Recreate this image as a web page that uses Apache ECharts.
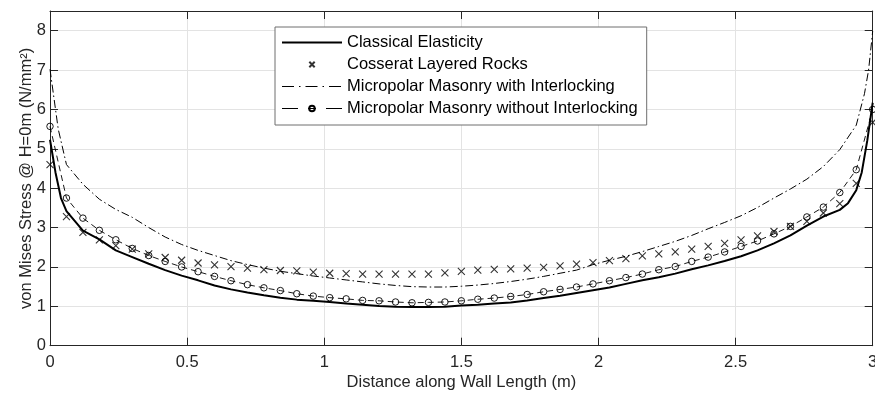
<!DOCTYPE html>
<html>
<head>
<meta charset="utf-8">
<script src="https://cdn.jsdelivr.net/npm/echarts@6/dist/echarts.min.js"></script>
<style>html,body{margin:0;padding:0;background:#fff;overflow:hidden}#c{width:875px;height:396px}</style>
</head>
<body>
<div id="c"></div>
<script>
// ---- data ----
const seriesNames = ['Classical Elasticity', 'Cosserat Layered Rocks', 'Micropolar Masonry with Interlocking', 'Micropolar Masonry without Interlocking'];
const xTicks = [0, 0.5, 1, 1.5, 2, 2.5, 3];
const yTicks = [0, 1, 2, 3, 4, 5, 6, 7, 8];

// marker positions along the wall (m)
const markX = [0, 0.06, 0.12, 0.18, 0.24, 0.30, 0.36, 0.42, 0.48, 0.54, 0.60, 0.66, 0.72, 0.78, 0.84, 0.90, 0.96,
  1.02, 1.08, 1.14, 1.20, 1.26, 1.32, 1.38, 1.44, 1.50, 1.56, 1.62, 1.68, 1.74, 1.80, 1.86, 1.92, 1.98,
  2.04, 2.10, 2.16, 2.22, 2.28, 2.34, 2.40, 2.46, 2.52, 2.58, 2.64, 2.70, 2.76, 2.82, 2.88, 2.94, 3.00];

const cosseratY = [4.60, 3.28, 2.88, 2.69, 2.54, 2.45, 2.33, 2.24, 2.17, 2.10, 2.05, 2.01, 1.97, 1.93, 1.91, 1.90, 1.87,
  1.84, 1.83, 1.82, 1.82, 1.82, 1.82, 1.82, 1.85, 1.89, 1.92, 1.94, 1.95, 1.97, 1.99, 2.03, 2.07, 2.11,
  2.16, 2.21, 2.28, 2.33, 2.38, 2.45, 2.52, 2.60, 2.69, 2.79, 2.90, 3.03, 3.16, 3.37, 3.61, 4.12, 5.67];

const withoutY = [5.57, 3.75, 3.24, 2.93, 2.69, 2.47, 2.29, 2.14, 2.00, 1.88, 1.76, 1.65, 1.55, 1.47, 1.40, 1.32, 1.26,
  1.22, 1.19, 1.15, 1.14, 1.11, 1.09, 1.10, 1.11, 1.14, 1.18, 1.21, 1.25, 1.30, 1.37, 1.43, 1.49, 1.57,
  1.65, 1.73, 1.82, 1.93, 2.01, 2.14, 2.25, 2.38, 2.52, 2.66, 2.84, 3.03, 3.27, 3.52, 3.89, 4.47, 6.00];

const classicalX = [0, 0.02, 0.04, 0.06, 0.12, 0.18, 0.24, 0.30, 0.36, 0.42, 0.48, 0.54, 0.60, 0.66, 0.72, 0.78, 0.84, 0.90, 0.96,
  1.02, 1.08, 1.14, 1.20, 1.26, 1.32, 1.38, 1.44, 1.50, 1.56, 1.62, 1.68, 1.74, 1.80, 1.86, 1.92, 1.98,
  2.04, 2.10, 2.16, 2.22, 2.28, 2.34, 2.40, 2.46, 2.52, 2.58, 2.64, 2.70, 2.76, 2.82, 2.88, 2.91, 2.94, 2.96, 2.98, 3.00];
const classicalY = [5.23, 4.40, 3.75, 3.42, 2.92, 2.70, 2.42, 2.25, 2.08, 1.92, 1.78, 1.66, 1.53, 1.43, 1.35, 1.28, 1.22, 1.17, 1.14,
  1.11, 1.07, 1.04, 1.01, 0.99, 0.985, 0.98, 0.99, 1.02, 1.04, 1.07, 1.10, 1.15, 1.21, 1.27, 1.34, 1.41,
  1.48, 1.57, 1.66, 1.74, 1.83, 1.94, 2.04, 2.15, 2.27, 2.42, 2.60, 2.80, 3.05, 3.28, 3.45, 3.62, 3.95, 4.40, 5.20, 6.17];

const interlockX = [0, 0.03, 0.06, 0.12, 0.18, 0.24, 0.30, 0.36, 0.42, 0.48, 0.54, 0.60, 0.66, 0.72, 0.78, 0.84, 0.90, 0.96,
  1.02, 1.08, 1.14, 1.20, 1.26, 1.32, 1.38, 1.44, 1.50, 1.56, 1.62, 1.68, 1.74, 1.80, 1.86, 1.92, 1.98,
  2.04, 2.10, 2.16, 2.22, 2.28, 2.34, 2.40, 2.46, 2.52, 2.58, 2.64, 2.70, 2.76, 2.82, 2.88, 2.94, 2.97, 2.985, 3.00];
const interlockY = [7.02, 5.50, 4.60, 4.10, 3.72, 3.46, 3.26, 3.00, 2.76, 2.57, 2.42, 2.29, 2.16, 2.06, 1.97, 1.89, 1.83, 1.77,
  1.72, 1.67, 1.62, 1.57, 1.53, 1.50, 1.49, 1.49, 1.51, 1.54, 1.58, 1.63, 1.69, 1.76, 1.84, 1.92, 2.06,
  2.17, 2.27, 2.39, 2.52, 2.65, 2.80, 2.97, 3.13, 3.30, 3.51, 3.75, 3.98, 4.23, 4.55, 4.98, 5.60, 6.40, 7.00, 7.99];

function pairs(xs, ys) { return xs.map((x, i) => [x, ys[i]]); }

const FONT = 'Liberation Sans, Arial, Helvetica, sans-serif';
const FS = 16.5;
const AX = '#262626';
const crossPath = 'path://M0,0L10,10M10,0L0,10';
const crossLegend = 'path://M0,0M13,13M1.5,1.5L11.5,11.5M11.5,1.5L1.5,11.5';

const chart = echarts.init(document.getElementById('c'), null, { renderer: 'canvas' });
const axisCommon = {
  type: 'value',
  axisLine: { show: true, onZero: false, lineStyle: { color: AX, width: 1 } },
  axisTick: { show: true, inside: true, length: 8, lineStyle: { color: AX, width: 1 } }
};
chart.setOption({
  backgroundColor: '#ffffff',
  animation: false,
  grid: { left: 50, right: 2.3, top: 11, bottom: 50.3, containLabel: false, outerBoundsMode: 'none' },
  xAxis: [
    Object.assign({}, axisCommon, {
      position: 'bottom', min: xTicks[0], max: xTicks[xTicks.length - 1], interval: 0.5,
      name: 'Distance along Wall Length (m)', nameLocation: 'middle', nameGap: 28, nameMoveOverlap: false,
      nameTextStyle: { fontFamily: FONT, fontSize: FS, color: AX },
      axisLabel: { show: true, margin: 8, fontFamily: FONT, fontSize: FS, color: AX },
      splitLine: { show: true, lineStyle: { color: '#e3e3e3', width: 1 } }
    }),
    Object.assign({}, axisCommon, {
      position: 'top', min: xTicks[0], max: xTicks[xTicks.length - 1], interval: 0.5,
      axisLabel: { show: false }, splitLine: { show: false }
    })
  ],
  yAxis: [
    Object.assign({}, axisCommon, {
      position: 'left', min: yTicks[0], max: 8.5, interval: 1,
      name: 'von Mises Stress @ H=0m (N/mm²)', nameLocation: 'middle', nameGap: 15, nameRotate: 90, nameMoveOverlap: false,
      nameTextStyle: { fontFamily: FONT, fontSize: FS, color: AX },
      axisLabel: { show: true, margin: 4, fontFamily: FONT, fontSize: FS, color: AX, showMaxLabel: false },
      splitLine: { show: true, lineStyle: { color: '#e3e3e3', width: 1 } }
    }),
    Object.assign({}, axisCommon, {
      position: 'right', min: yTicks[0], max: 8.5, interval: 1,
      axisLabel: { show: false }, splitLine: { show: false }
    })
  ],
  legend: {
    orient: 'vertical', left: 275, top: 27,
    itemWidth: 60, itemHeight: 7, itemGap: 5,
    padding: [7, 9, 8, 6],
    backgroundColor: '#ffffff', borderColor: '#6e6e6e', borderWidth: 1, borderRadius: 0,
    textStyle: { fontFamily: FONT, fontSize: FS, color: '#000' },
    data: [
      { name: seriesNames[0], itemStyle: { opacity: 0 }, lineStyle: { color: '#000', width: 2, type: 'solid' } },
      { name: seriesNames[1], icon: crossLegend },
      { name: seriesNames[2], itemStyle: { opacity: 0 }, lineStyle: { color: '#000', width: 1, type: [12, 5, 1.5, 5] } },
      { name: seriesNames[3], lineStyle: { color: '#000', width: 1, type: [16, 10, 8, 10] } }
    ]
  },
  series: [
    {
      name: seriesNames[0], type: 'line', data: pairs(classicalX, classicalY),
      symbol: 'none', showSymbol: false, smooth: false, z: 5,
      lineStyle: { color: '#000', width: 2 }, itemStyle: { color: '#000' }
    },
    {
      name: seriesNames[1], type: 'scatter', data: pairs(markX, cosseratY),
      symbol: crossPath, symbolSize: 7, z: 4,
      itemStyle: { color: 'rgba(0,0,0,0)', borderColor: '#000', borderWidth: 1.1 }
    },
    {
      name: seriesNames[2], type: 'line', data: pairs(interlockX, interlockY),
      symbol: 'none', showSymbol: false, z: 3,
      lineStyle: { color: '#000', width: 1, type: [8, 3, 1.5, 3] }, itemStyle: { color: '#000' }
    },
    {
      name: seriesNames[3], type: 'line', data: pairs(markX, withoutY),
      symbol: 'circle', symbolSize: 6.5, showSymbol: true, z: 3,
      lineStyle: { color: '#000', width: 0.9, type: [6, 4] },
      itemStyle: { color: 'rgba(0,0,0,0)', borderColor: '#000', borderWidth: 0.9 }
    }
  ]
});
</script>
</body>
</html>
